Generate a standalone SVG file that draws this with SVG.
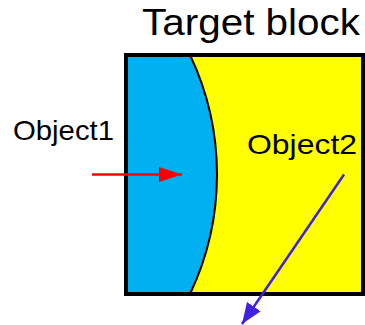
<svg xmlns="http://www.w3.org/2000/svg" width="365" height="325" viewBox="0 0 365 325">
<style>
text{font-family:"Liberation Sans",Arial,sans-serif;fill:#000}
.lbl{font-size:28px}
.ttl{font-size:37px}
</style>
<defs>
<marker id="arrRed" markerUnits="userSpaceOnUse" markerWidth="24" markerHeight="16" refX="23" refY="7.5" orient="auto" viewBox="0 0 24 16">
<path d="M0,0 L23,7.5 L0,15 Z" fill="#FF0000"/>
</marker>
<marker id="arrBlue" markerUnits="userSpaceOnUse" markerWidth="22" markerHeight="17" refX="21" refY="8.3" orient="auto" viewBox="0 0 22 17">
<path d="M0,0 L21,8.3 L0,16.6 Z" fill="#3F22E0"/>
</marker>
</defs>
<rect width="365" height="325" fill="#FFFFFF"/>
<g id="object2">
<rect x="126" y="55" width="237" height="239" fill="#FFFF00"/>
<text class="lbl" x="247" y="154" textLength="110" lengthAdjust="spacingAndGlyphs">Object2</text>
</g>
<g id="object1">
<path d="M126,55 L190,55 A278,278 0 0 1 190,294 L126,294 Z" fill="#00B0F0"/>
<path d="M190,55 A278,278 0 0 1 190,294" fill="none" stroke="#000" stroke-width="2"/>
<text class="lbl" x="13" y="140" textLength="101" lengthAdjust="spacingAndGlyphs">Object1</text>
</g>
<g id="target-block">
<rect x="126" y="55" width="237" height="239" fill="none" stroke="#000" stroke-width="4"/>
<text class="ttl" x="142" y="35" textLength="218" lengthAdjust="spacingAndGlyphs">Target block</text>
</g>
<g id="connectors">
<line x1="92" y1="174.5" x2="182" y2="174.5" stroke="#FF0000" stroke-width="2.5" marker-end="url(#arrRed)"/>
<line x1="344" y1="174.5" x2="242" y2="324" stroke="#3F22E0" stroke-width="2.5" marker-end="url(#arrBlue)"/>
</g>
</svg>
